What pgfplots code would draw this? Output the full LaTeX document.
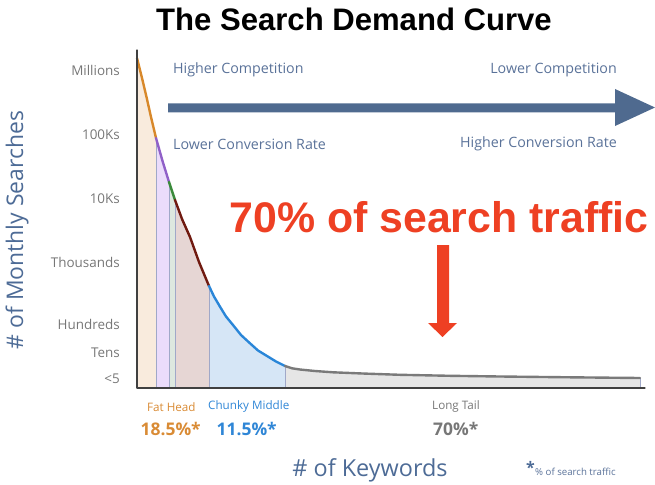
\documentclass[border=0pt]{standalone}
\usepackage{fontspec}
\setmainfont{Open Sans}
\newfontfamily\arialfont{Liberation Sans}
\usepackage{pgfplots}
\pgfplotsset{compat=1.18}

\definecolor{cpeach}{HTML}{F9EBDD}
\definecolor{clav}{HTML}{EBDCFB}
\definecolor{cgreenf}{HTML}{DDE8DF}
\definecolor{crose}{HTML}{E6D6D4}
\definecolor{cbluef}{HTML}{D6E6F6}
\definecolor{cgrayf}{HTML}{E6E6E6}
\definecolor{divider}{HTML}{A0A8C8}
\definecolor{lorange}{HTML}{D8882A}
\definecolor{lpurple}{HTML}{9060C8}
\definecolor{lgreen}{HTML}{3A8A3A}
\definecolor{lbrown}{HTML}{701A10}
\definecolor{lblue}{HTML}{2A86D8}
\definecolor{lgray}{HTML}{7A7A7A}
\definecolor{steel}{HTML}{4F6A8F}
\definecolor{labblue}{HTML}{5A7299}
\definecolor{titblue}{HTML}{4D6B96}
\definecolor{tickgray}{HTML}{777777}
\definecolor{redtxt}{HTML}{EE4023}
\definecolor{fatorange}{HTML}{D98B35}
\definecolor{chunkblue}{HTML}{2F86D6}

\tikzset{ylab/.style={anchor=east, text=tickgray, font=\fontsize{13.5}{13.5}\selectfont, inner sep=0pt},
  toplab/.style={text=labblue, font=\fontsize{14.3}{14.3}\selectfont, inner sep=0pt},
  seglab/.style={anchor=west, font=\fontsize{11.7}{11.7}\selectfont, inner sep=0pt},
  segpct/.style={anchor=west, font=\bfseries\fontsize{17.5}{17.5}\selectfont, inner sep=0pt}}

\begin{document}
\begin{tikzpicture}
\begin{axis}[
    width=655bp, height=485bp, scale only axis,
    xmin=0, xmax=655, ymin=0, ymax=485, y dir=reverse,
    hide axis, clip=false, no markers,
    every axis plot/.append style={line join=round, line cap=round},
]
% invisible frame, keeps the page at the reference size
\draw[draw=none] (axis cs:0,0) rectangle (axis cs:655,485);

% shaded areas under the curve
\addplot[draw=none, fill=cpeach] coordinates {(137,388) (137,58) (142,78) (146.5,97) (151,117) (156,138) (156,388)};
\addplot[draw=none, fill=clav] coordinates {(156,388) (156,138) (162.5,161) (169,182) (169,388)};
\addplot[draw=none, fill=cgreenf] coordinates {(169,388) (169,182) (175,200) (175,388)};
\addplot[draw=none, fill=crose] coordinates {(175,388) (175,200) (182,219) (190,237) (199,262) (209,286) (209,388)};
\addplot[draw=none, fill=cbluef] coordinates {(209,388) (209,286) (214,296.5) (220,306.7) (226,316.5) (233,325) (241,335) (250,343.3) (258,350.5) (267,356) (276,361.5) (285,366) (285,388)};
\addplot[draw=none, fill=cgrayf] coordinates {(285,388) (285,366) (292,368.3) (300,369.5) (315,371) (333,372.3) (365,373.6) (400,374.8) (450,375.8) (500,376.5) (570,377.3) (640,378) (640,388)};

% dividers
\addplot[divider, line width=0.9pt] coordinates {(156,138) (156,388)};
\addplot[divider, line width=0.9pt] coordinates {(169,182) (169,388)};
\addplot[divider, line width=0.9pt] coordinates {(175,200) (175,388)};
\addplot[divider, line width=0.9pt] coordinates {(209,286) (209,388)};
\addplot[divider, line width=0.9pt] coordinates {(285,366) (285,388)};
\addplot[divider, line width=0.9pt] coordinates {(640,378) (640,388)};

% the demand curve
\addplot[lorange, line width=2.4pt] coordinates {(137,58) (142,78) (146.5,97) (151,117) (156,138)};
\addplot[lpurple, line width=2.4pt] coordinates {(156,138) (162.5,161) (169,182)};
\addplot[lgreen, line width=2.4pt] coordinates {(169,182) (175,200)};
\addplot[lbrown, line width=2.4pt] coordinates {(175,200) (182,219) (190,237) (199,262) (209,286)};
\addplot[lblue, line width=2.4pt] coordinates {(209,286) (214,296.5) (220,306.7) (226,316.5) (233,325) (241,335) (250,343.3) (258,350.5) (267,356) (276,361.5) (285,366)};
\addplot[lgray, line width=2.4pt] coordinates {(285,366) (292,368.3) (300,369.5) (315,371) (333,372.3) (365,373.6) (400,374.8) (450,375.8) (500,376.5) (570,377.3) (640,378)};

% axes
\addplot[black!75, line width=1.1pt] coordinates {(137,50) (137,388) (645,388)};

% arrows
\addplot[draw=none, fill=steel] coordinates {(168,103.5) (615,103.5) (615,89) (655,107.5) (615,126) (615,112.5) (168,112.5)};
\addplot[draw=none, fill=redtxt] coordinates {(437,245) (449,245) (449,323) (457,323) (442.5,337) (428,323) (437,323)};

% y labels
\node[ylab] at (axis cs:120,70.7) {Millions};
\node[ylab] at (axis cs:120,135) {100Ks};
\node[ylab] at (axis cs:120,199) {10Ks};
\node[ylab] at (axis cs:120,262.7) {Thousands};
\node[ylab] at (axis cs:120,324) {Hundreds};
\node[ylab] at (axis cs:120,353) {Tens};
\node[ylab] at (axis cs:120,379) {<5};

% title and annotations
\node[font=\arialfont\bfseries\fontsize{31.2}{31.2}\selectfont] at (axis cs:354,19) {The Search Demand Curve};
\node[anchor=base, text=redtxt, font=\arialfont\bfseries\fontsize{43}{43}\selectfont, inner sep=0pt] at (axis cs:439,232) {70\% of search traffic};

\node[toplab, anchor=west] at (axis cs:173,70) {Higher Competition};
\node[toplab, anchor=east] at (axis cs:617,70) {Lower Competition};
\node[toplab, anchor=west] at (axis cs:173,144) {Lower Conversion Rate};
\node[toplab, anchor=east] at (axis cs:617,144) {Higher Conversion Rate};

\node[rotate=90, text=titblue, font=\fontsize{23}{23}\selectfont, inner sep=0pt] at (axis cs:17,230) {\# of Monthly Searches};
\node[text=titblue, font=\fontsize{23.5}{23.5}\selectfont, inner sep=0pt] at (axis cs:370,470) {\# of Keywords};

% segment labels
\node[seglab, text=fatorange] at (axis cs:147,406.7) {Fat Head};
\node[seglab, text=chunkblue] at (axis cs:208,406.7) {Chunky Middle};
\node[seglab, text=tickgray] at (axis cs:432,406.7) {Long Tail};
\node[segpct, text=fatorange] at (axis cs:140.5,429) {18.5\%*};
\node[segpct, text=chunkblue] at (axis cs:216.5,429) {11.5\%*};
\node[segpct, text=tickgray] at (axis cs:433,429) {70\%*};

% footnote
\node[anchor=base west, text=titblue, font=\bfseries\fontsize{16}{16}\selectfont, inner sep=0pt] at (axis cs:526,473) {*};
\node[anchor=base west, text=labblue, font=\fontsize{9.7}{9.7}\selectfont, inner sep=0pt] at (axis cs:535,475) {\% of search traffic};
\end{axis}
\end{tikzpicture}
\end{document}
